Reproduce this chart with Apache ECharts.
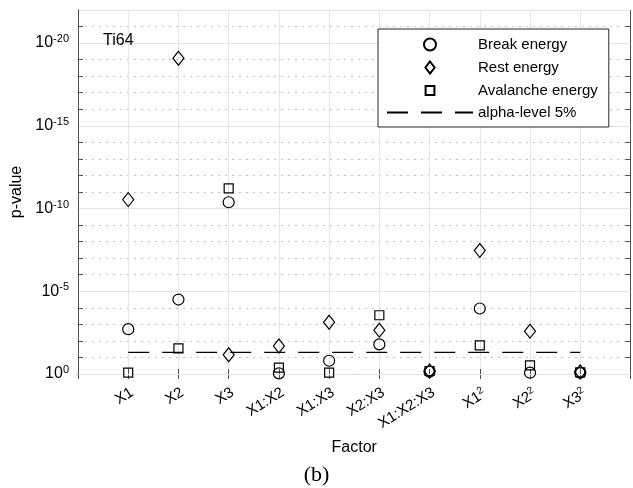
<!DOCTYPE html>
<html>
<head>
<meta charset="utf-8">
<script src="https://cdn.jsdelivr.net/npm/echarts@6/dist/echarts.min.js"></script>
<style>
  html, body { margin: 0; padding: 0; background: #fff; }
  #chart { width: 633px; height: 488px; }
</style>
</head>
<body>
<div id="chart"></div>
<script>
// p-values stored as decade exponents: value v means p = 10^-v
const categories = ["X1", "X2", "X3", "X1:X2", "X1:X3", "X2:X3", "X1:X2:X3", "X1^2", "X2^2", "X3^2"];
const breakEnergy = [2.71, 4.5, 10.38, 0.04, 0.8, 1.79, 0.14, 3.96, 0.08, 0.08];
const restEnergy = [10.54, 19.08, 1.16, 1.69, 3.13, 2.65, 0.18, 7.47, 2.59, 0.12];
const avalancheEnergy = [0.08, 1.55, 11.22, 0.38, 0.08, 3.55, 0.18, 1.73, 0.52, 0.1];
const alphaLevel = 0.05;
const yTicks = [0, 5, 10, 15, 20];

const font = "Liberation Sans, Arial, Helvetica, sans-serif";
const axisColor = "#4d4d4d";

// legend icons padded inside a 12x12 frame so they keep marker proportions
const diamondIcon = "path://M0,0M12,12M6,0L10.6,6L6,12L1.4,6Z";
const squareIcon = "path://M0,0M12,12M1.6,1.6L10.4,1.6L10.4,10.4L1.6,10.4Z";

const toPoints = values => values.map((v, i) => [i + 1, v]);
const alphaExp = -Math.log10(alphaLevel);

const xLabel = value => {
  const name = categories[value - 1];
  if (!name) return "";
  const parts = name.split("^");
  return parts.length > 1 ? `{b|${parts[0]}}{s|${parts[1]}}` : `{b|${name}}`;
};

const markerStyle = {
  color: "none",
  borderColor: "#000",
  borderWidth: 1.2,
  opacity: 1
};

const chart = echarts.init(document.getElementById("chart"));
chart.setOption({
  animation: false,
  textStyle: { fontFamily: font },
  title: [
    {
      text: "Ti64",
      left: 98,
      top: 28,
      textStyle: { fontFamily: font, fontSize: 16, fontWeight: "normal", color: "#000" }
    },
    {
      text: "(b)",
      left: "center",
      top: 459,
      textStyle: { fontFamily: "Liberation Serif, DejaVu Serif, serif", fontSize: 22, fontWeight: "normal", color: "#000" }
    }
  ],
  legend: {
    orient: "vertical",
    left: 378,
    top: 29,
    itemWidth: 86,
    itemHeight: 12,
    itemGap: 6,
    padding: [7, 11, 7, 8],
    symbolKeepAspect: true,
    backgroundColor: "#fff",
    borderColor: "#262626",
    borderWidth: 1,
    borderRadius: 0,
    textStyle: { fontFamily: font, fontSize: 15, color: "#000" },
    data: [
      { name: "Break energy" },
      { name: "Rest energy", icon: diamondIcon },
      { name: "Avalanche energy", icon: squareIcon },
      { name: "alpha-level 5%", itemStyle: { color: "transparent", borderWidth: 0, opacity: 0 } }
    ]
  },
  grid: { left: 78, right: 2, top: 10, bottom: 114, containLabel: false },
  xAxis: [
    {
      type: "value",
      min: 0,
      max: 11,
      interval: 1,
      position: "bottom",
      name: "Factor",
      nameLocation: "middle",
      nameGap: 66,
      nameTextStyle: { fontFamily: font, fontSize: 16, color: "#000" },
      axisLine: { lineStyle: { color: axisColor, width: 1 } },
      axisTick: { inside: true, length: 5, lineStyle: { color: axisColor } },
      axisLabel: {
        rotate: 32,
        margin: 11,
        verticalAlign: "top",
        formatter: xLabel,
        rich: {
          b: { fontFamily: font, fontSize: 15, color: "#000" },
          s: { fontFamily: font, fontSize: 10, color: "#000", verticalAlign: "top", padding: [0, 0, 8, 0] }
        }
      },
      splitLine: { show: true, lineStyle: { color: "#e3e3e3", width: 1 } }
    },
    {
      type: "value",
      min: 0,
      max: 11,
      interval: 1,
      position: "top",
      axisLine: { show: true, lineStyle: { color: axisColor, width: 1 } },
      axisTick: { show: true, inside: true, length: 5, lineStyle: { color: axisColor } },
      axisLabel: { show: false },
      splitLine: { show: false }
    }
  ],
  yAxis: [
    {
      type: "value",
      min: 0,
      max: 22,
      interval: 5,
      position: "left",
      name: "p-value",
      nameLocation: "middle",
      nameGap: 43,
      nameTextStyle: { fontFamily: font, fontSize: 16, color: "#000" },
      axisLine: { show: true, lineStyle: { color: axisColor, width: 1 } },
      axisTick: { show: false },
      axisLabel: {
        margin: 9,
        formatter: v => (yTicks.includes(v) ? `{b|10}{s|${v === 0 ? "0" : "-" + v}}` : ""),
        rich: {
          b: { fontFamily: font, fontSize: 16, color: "#000" },
          s: { fontFamily: font, fontSize: 11, color: "#000", verticalAlign: "top", padding: [0, 0, 8, 0] }
        }
      },
      splitLine: { show: true, lineStyle: { color: "#e3e3e3", width: 1 } },
      z: 3
    },
    {
      type: "value",
      min: 0,
      max: 22,
      interval: 1,
      position: "left",
      axisLine: { show: true, lineStyle: { color: axisColor, width: 1 } },
      axisTick: { show: true, inside: true, length: 5, lineStyle: { color: axisColor } },
      axisLabel: { show: false },
      splitLine: { show: true, lineStyle: { color: "#c4c4c4", width: 1, type: [2, 5] } }
    },
    {
      type: "value",
      min: 0,
      max: 22,
      interval: 1,
      position: "right",
      axisLine: { show: true, lineStyle: { color: axisColor, width: 1 } },
      axisTick: { show: true, inside: true, length: 5, lineStyle: { color: axisColor } },
      axisLabel: { show: false },
      splitLine: { show: false }
    }
  ],
  series: [
    {
      name: "Break energy",
      type: "scatter",
      symbol: "circle",
      symbolSize: 11,
      itemStyle: markerStyle,
      data: toPoints(breakEnergy),
      z: 5
    },
    {
      name: "Rest energy",
      type: "scatter",
      symbol: "diamond",
      symbolSize: [11, 14],
      itemStyle: markerStyle,
      data: toPoints(restEnergy),
      z: 5
    },
    {
      name: "Avalanche energy",
      type: "scatter",
      symbol: "rect",
      symbolSize: 9,
      itemStyle: markerStyle,
      data: toPoints(avalancheEnergy),
      z: 5
    },
    {
      name: "alpha-level 5%",
      type: "line",
      symbol: "none",
      itemStyle: { color: "#000" },
      lineStyle: { color: "#000", width: 1.2, type: [21, 13] },
      data: [[1, alphaExp], [categories.length, alphaExp]],
      z: 4
    }
  ]
});
</script>
</body>
</html>
